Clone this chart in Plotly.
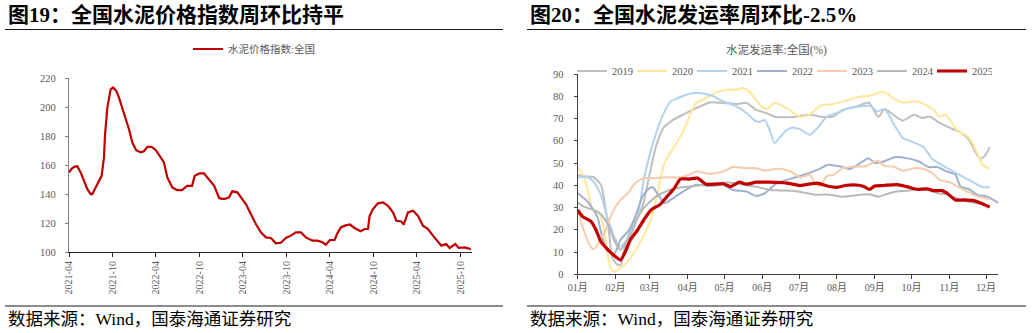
import pandas as pd
import plotly.graph_objects as go

# ---------------- data: left chart (cement price index, national) ----------------
price_dates = [
    "2021-04-01", "2021-04-12", "2021-04-23", "2021-05-06", "2021-05-20", "2021-06-03", "2021-06-17",
    "2021-07-01", "2021-07-08", "2021-07-22", "2021-08-05", "2021-08-16", "2021-08-26", "2021-08-30",
    "2021-09-09", "2021-09-16", "2021-09-23", "2021-10-03", "2021-10-17", "2021-10-28", "2021-11-11",
    "2021-11-25", "2021-12-09", "2021-12-23", "2022-01-08", "2022-01-27", "2022-02-10", "2022-02-24",
    "2022-03-14", "2022-04-01", "2022-04-21", "2022-05-05", "2022-05-19", "2022-06-09", "2022-06-29",
    "2022-07-20", "2022-08-10", "2022-08-31", "2022-09-11", "2022-10-01", "2022-10-20", "2022-11-12",
    "2022-12-02", "2022-12-23", "2023-01-13", "2023-02-02", "2023-02-16", "2023-03-09", "2023-03-30",
    "2023-04-14", "2023-05-05", "2023-05-26", "2023-06-16", "2023-07-07", "2023-07-28", "2023-08-18",
    "2023-09-08", "2023-09-29", "2023-10-20", "2023-11-10", "2023-12-01", "2023-12-22", "2024-01-19",
    "2024-02-09", "2024-03-01", "2024-03-15", "2024-04-01", "2024-04-21", "2024-05-01", "2024-05-17",
    "2024-06-03", "2024-06-24", "2024-07-14", "2024-08-08", "2024-08-25", "2024-09-08", "2024-09-15",
    "2024-09-29", "2024-10-20", "2024-11-10", "2024-12-01", "2024-12-22", "2025-01-05", "2025-01-26",
    "2025-02-05", "2025-02-23", "2025-03-16", "2025-04-06", "2025-04-27", "2025-05-18", "2025-06-08",
    "2025-06-29", "2025-07-13", "2025-08-03", "2025-08-17", "2025-09-10", "2025-09-24", "2025-10-19",
    "2025-11-09", "2025-11-14",
]
price_values = [
    155.0, 157.5, 158.8, 159.3, 155.0, 148.7, 143.4,
    140.0, 140.0, 144.6, 148.7, 152.6, 165.3, 180.2,
    199.8, 205.0, 212.4, 213.6, 211.2, 206.7, 199.8,
    191.7, 184.8, 175.6, 170.3, 168.8, 169.6, 172.6,
    172.6, 170.3, 165.3, 161.9, 151.5, 144.6, 142.8,
    142.8, 145.7, 145.7, 152.6, 154.3, 154.3, 149.7,
    145.7, 137.2, 136.6, 137.7, 141.9, 141.2, 136.6,
    133.1, 126.2, 119.3, 113.6, 110.1, 109.7, 106.0,
    106.4, 109.7, 111.3, 113.6, 113.6, 110.1, 107.8,
    107.8, 106.7, 105.0, 108.3, 108.3, 112.4, 117.0,
    118.2, 119.0, 116.6, 114.3, 115.9, 115.9, 125.0,
    129.7, 133.6, 134.3, 131.9, 127.4, 121.6, 121.1,
    118.9, 127.4, 128.5, 125.0, 118.2, 115.9, 111.3,
    106.7, 104.4, 105.5, 102.8, 105.5, 102.8, 103.2,
    102.1, 102.0,
]
price_name = "水泥价格指数:全国"
price_ticks = ["2021-04-01", "2021-10-01", "2022-04-01", "2022-10-01", "2023-04-01",
               "2023-10-01", "2024-04-01", "2024-10-01", "2025-04-01", "2025-10-01"]

# ---------------- data: right chart (cement shipment rate, %), day of year ----------------
days_2019 = [0, 7, 13, 19, 23, 26, 28, 32, 35, 38, 43, 49, 53, 59, 64, 70, 78, 89, 100, 108, 119, 130, 138,
             146, 154, 162, 176, 190, 201, 209, 217, 228, 238, 242, 246, 251, 258, 266, 275, 282, 288, 296,
             305, 313, 320, 325, 329, 333, 337]
vals_2019 = [44.5, 44.0, 43.6, 40.2, 28.9, 16.9, 7.9, 4.5, 4.0, 10.9, 19.9, 25.9, 30.4, 45.4, 57.4, 65.7, 69.4,
             72.5, 75.4, 77.2, 77.0, 76.5, 77.0, 73.9, 72.5, 70.7, 70.7, 71.7, 70.7, 70.9, 73.9, 75.4, 77.2,
             73.9, 70.7, 74.3, 71.7, 69.1, 71.7, 70.2, 70.9, 68.0, 65.7, 63.7, 60.4, 55.2, 51.9, 53.2, 57.2]

days_2020 = [0, 5, 9, 12, 17, 21, 24, 27, 30, 35, 41, 49, 57, 62, 67, 71, 79, 87, 92, 97, 105, 113, 121, 130,
             135, 140, 146, 151, 155, 161, 171, 182, 190, 198, 209, 220, 231, 239, 245, 251, 258, 266, 275,
             283, 291, 296, 301, 306, 311, 317, 322, 328, 331, 337]
vals_2020 = [48.0, 44.0, 36.0, 29.0, 28.2, 21.4, 10.9, 2.7, 1.2, 2.7, 5.7, 12.4, 20.7, 28.9, 41.0, 50.0, 57.4,
             64.9, 71.7, 77.0, 79.2, 81.5, 82.9, 82.9, 83.7, 82.2, 78.4, 75.0, 74.3, 77.0, 74.7, 70.7, 71.7,
             75.7, 76.5, 78.1, 79.9, 80.2, 81.5, 81.9, 79.2, 77.2, 77.7, 76.6, 73.9, 70.9, 71.7, 68.0, 64.2,
             62.7, 59.7, 52.9, 49.2, 47.5]

days_2021 = [0, 8, 13, 19, 24, 30, 34, 38, 43, 49, 54, 60, 68, 76, 82, 91, 100, 110, 119, 130, 138, 146, 150,
             153, 157, 161, 166, 171, 176, 183, 190, 196, 204, 212, 220, 231, 239, 245, 251, 258, 266, 273,
             283, 290, 299, 307, 316, 324, 331, 337]
vals_2021 = [43.6, 43.6, 41.7, 35.7, 25.9, 16.9, 12.4, 14.0, 18.4, 25.9, 42.4, 55.9, 69.4, 77.7, 79.2, 81.0,
             81.5, 80.2, 77.7, 75.4, 72.5, 68.7, 68.7, 69.4, 64.9, 59.0, 61.9, 64.9, 66.0, 64.9, 62.7, 65.7,
             70.9, 72.5, 74.3, 75.4, 75.7, 73.2, 74.3, 68.0, 61.2, 59.7, 57.1, 51.8, 48.7, 46.2, 43.6, 41.2,
             39.2, 39.2]

days_2022 = [0, 8, 16, 20, 24, 30, 35, 42, 47, 53, 57, 61, 65, 71, 76, 84, 91, 97, 108, 119, 127, 138, 146,
             153, 163, 176, 185, 196, 205, 215, 223, 231, 238, 243, 250, 260, 269, 279, 287, 294, 302, 309,
             313, 320, 327, 335, 340, 344]
vals_2022 = [36.4, 32.7, 25.9, 16.9, 10.9, 9.4, 15.4, 19.9, 25.9, 34.9, 37.9, 39.2, 36.4, 32.0, 33.4, 36.4,
             38.7, 40.2, 39.7, 40.2, 37.9, 37.2, 35.2, 36.4, 41.0, 43.2, 44.7, 46.9, 49.2, 48.4, 47.3, 50.0,
             52.2, 50.0, 50.7, 52.7, 52.2, 50.7, 48.2, 48.2, 46.2, 44.7, 39.4, 38.2, 35.7, 34.9, 33.4, 32.2]

days_2023 = [0, 4, 9, 13, 17, 23, 28, 35, 41, 47, 54, 62, 73, 84, 91, 97, 108, 119, 127, 138, 146, 153, 161,
             166, 174, 182, 190, 194, 198, 204, 209, 217, 226, 236, 245, 251, 258, 266, 275, 283, 290, 296,
             305, 313, 321, 329, 337]
vals_2023 = [28.9, 21.4, 14.0, 11.2, 14.0, 19.9, 27.4, 33.4, 36.4, 41.0, 43.2, 43.2, 43.6, 43.6, 44.7, 46.2,
             45.1, 46.2, 48.2, 47.7, 47.7, 46.6, 47.3, 47.4, 46.2, 43.6, 44.7, 40.6, 39.7, 44.2, 44.7, 47.7,
             48.4, 48.7, 51.0, 48.7, 48.4, 46.5, 47.7, 47.3, 45.5, 42.4, 41.2, 38.7, 36.5, 34.7, 33.8]

days_2024 = [0, 5, 13, 19, 25, 30, 35, 40, 44, 48, 53, 58, 64, 72, 80, 91, 102, 113, 124, 135, 146, 157, 166,
             176, 185, 196, 204, 217, 231, 239, 246, 253, 261, 269, 277, 286, 294, 302, 313, 324, 332]
vals_2024 = [32.2, 30.4, 28.9, 27.0, 22.0, 15.0, 11.0, 14.7, 18.4, 24.0, 29.0, 32.0, 34.9, 37.2, 38.7, 39.4,
             40.2, 41.0, 41.2, 40.2, 39.4, 37.9, 37.7, 37.5, 36.7, 35.7, 35.9, 34.9, 35.7, 35.9, 34.9, 36.1,
             37.2, 37.5, 38.2, 37.9, 36.5, 35.9, 33.4, 32.2, 31.6]

days_2025 = [0, 4, 11, 15, 19, 25, 31, 35, 39, 43, 49, 54, 60, 67, 73, 79, 84, 91, 98, 105, 113, 119, 125,
             132, 138, 146, 157, 171, 182, 190, 196, 204, 212, 220, 230, 234, 239, 243, 250, 261, 269, 277,
             286, 291, 298, 302, 309, 316, 324, 329, 333, 337]
vals_2025 = [28.9, 25.9, 23.7, 19.9, 14.7, 10.9, 7.9, 6.4, 10.2, 15.4, 19.9, 24.4, 28.9, 31.2, 34.9, 38.7,
             42.8, 42.8, 43.2, 40.5, 40.5, 40.7, 39.4, 41.4, 40.5, 41.4, 41.4, 41.0, 39.9, 40.6, 41.0, 39.7,
             39.1, 40.0, 40.0, 39.4, 38.2, 39.7, 39.9, 40.3, 39.4, 38.2, 38.4, 37.6, 37.6, 36.5, 33.4, 33.4,
             33.1, 32.2, 31.2, 30.2]

ship_series = [
    ("2019", days_2019, vals_2019),
    ("2020", days_2020, vals_2020),
    ("2021", days_2021, vals_2021),
    ("2022", days_2022, vals_2022),
    ("2023", days_2023, vals_2023),
    ("2024", days_2024, vals_2024),
    ("2025", days_2025, vals_2025),
]
ship_title = "水泥发运率:全国(%)"

title_left = "图19：全国水泥价格指数周环比持平"
title_right = "图20：全国水泥发运率周环比-2.5%"
source_text = "数据来源：Wind，国泰海通证券研究"

# ---------------- styling ----------------
W, H = 1032, 333
def fx(x):
    return x / W
def fy(y):
    return 1 - y / H

SERIF = "Liberation Serif, Noto Sans CJK SC, serif"
GRAY = "#595959"
colors = {"2019": "#BFBFBF", "2020": "#FFE699", "2021": "#B4D2EE", "2022": "#9FB1CE",
          "2023": "#F8CBAD", "2024": "#B8B8B8", "2025": "#C00000"}

fig = go.Figure()

fig.add_trace(go.Scatter(
    x=pd.to_datetime(price_dates), y=price_values, mode="lines", name=price_name,
    line=dict(color="#C00000", width=2.2), xaxis="x", yaxis="y", legend="legend",
))

base = pd.Timestamp("2021-01-01")
for name, days, vals in ship_series:
    xs = base + pd.to_timedelta(days, unit="D")
    fig.add_trace(go.Scatter(
        x=xs, y=vals, mode="lines", name=name,
        line=dict(color=colors[name], width=3.2 if name == "2025" else 2, shape="spline", smoothing=0.6),
        xaxis="x2", yaxis="y2", legend="legend2",
    ))

fig.update_layout(
    width=W, height=H, margin=dict(l=0, r=0, t=0, b=0, autoexpand=False),
    paper_bgcolor="white", plot_bgcolor="white",
    font=dict(family=SERIF, color=GRAY, size=11),
    xaxis=dict(
        domain=[fx(69), fx(472)], anchor="y", type="date",
        range=["2021-04-01", "2025-11-19"],
        tickvals=pd.to_datetime(price_ticks), tickformat="%Y-%m", tickangle=-90,
        ticks="outside", ticklen=4, tickcolor="#262626",
        showline=True, linecolor="#262626", linewidth=1.2, showgrid=False, zeroline=False,
        tickfont=dict(family=SERIF, size=10, color=GRAY), automargin=False,
    ),
    yaxis=dict(
        domain=[fy(252), fy(78.3)], anchor="x", range=[100, 220], dtick=20,
        ticks="outside", ticklen=3, tickcolor="#7F7F7F", ticklabelstandoff=7,
        showline=True, linecolor="#7F7F7F", linewidth=1.2, showgrid=False, zeroline=False,
        tickfont=dict(family=SERIF, size=10.5, color=GRAY), automargin=False,
    ),
    xaxis2=dict(
        domain=[fx(577.7), fx(998.3)], anchor="y2", type="date",
        range=["2021-01-01", "2021-12-11"],
        dtick="M1", tick0="2021-01-01", tickformat="%m月",
        ticks="outside", ticklen=4, tickcolor="#404040",
        showline=True, linecolor="#404040", linewidth=1.2, showgrid=False, zeroline=False,
        tickfont=dict(family=SERIF, size=10, color=GRAY), automargin=False,
    ),
    yaxis2=dict(
        domain=[fy(274.3), fy(74)], anchor="x2", range=[0, 90], dtick=10,
        ticks="outside", ticklen=3, tickcolor="#404040", ticklabelstandoff=8,
        showline=True, linecolor="#404040", linewidth=1.2, showgrid=False, zeroline=False,
        tickfont=dict(family=SERIF, size=10.5, color=GRAY), automargin=False,
    ),
    legend=dict(
        orientation="h", x=fx(188), y=fy(49), xanchor="left", yanchor="middle",
        bgcolor="rgba(0,0,0,0)", font=dict(family=SERIF, size=10.5, color=GRAY),
    ),
    legend2=dict(
        orientation="h", x=fx(572), y=fy(71), xanchor="left", yanchor="middle",
        bgcolor="rgba(0,0,0,0)", font=dict(family=SERIF, size=10.5, color=GRAY),
        entrywidth=15, entrywidthmode="pixels", tracegroupgap=0,
    ),
    showlegend=True,
)

annotations = [
    dict(text=f"<b>{title_left}</b>", x=fx(6), y=fy(15), xanchor="left", yanchor="middle",
         font=dict(family=SERIF, size=21, color="black")),
    dict(text=f"<b>{title_right}</b>", x=fx(528), y=fy(15), xanchor="left", yanchor="middle",
         font=dict(family=SERIF, size=21, color="black")),
    dict(text=ship_title, x=fx(776), y=fy(50), xanchor="center", yanchor="middle",
         font=dict(family=SERIF, size=11.5, color=GRAY)),
    dict(text=source_text, x=fx(6), y=fy(319), xanchor="left", yanchor="middle",
         font=dict(family=SERIF, size=17.5, color="black")),
    dict(text=source_text, x=fx(528), y=fy(319), xanchor="left", yanchor="middle",
         font=dict(family=SERIF, size=17.5, color="black")),
]
for a in annotations:
    a.update(xref="paper", yref="paper", showarrow=False)
fig.update_layout(annotations=annotations)

shapes = []
for x0, x1 in [(5, 503), (527, 1026)]:
    for yy in (29.5, 306):
        shapes.append(dict(type="line", xref="paper", yref="paper", x0=fx(x0), x1=fx(x1),
                           y0=fy(yy), y1=fy(yy), line=dict(color="#1a1a1a", width=1.2)))
fig.update_layout(shapes=shapes)

fig.write_html("out.html")
